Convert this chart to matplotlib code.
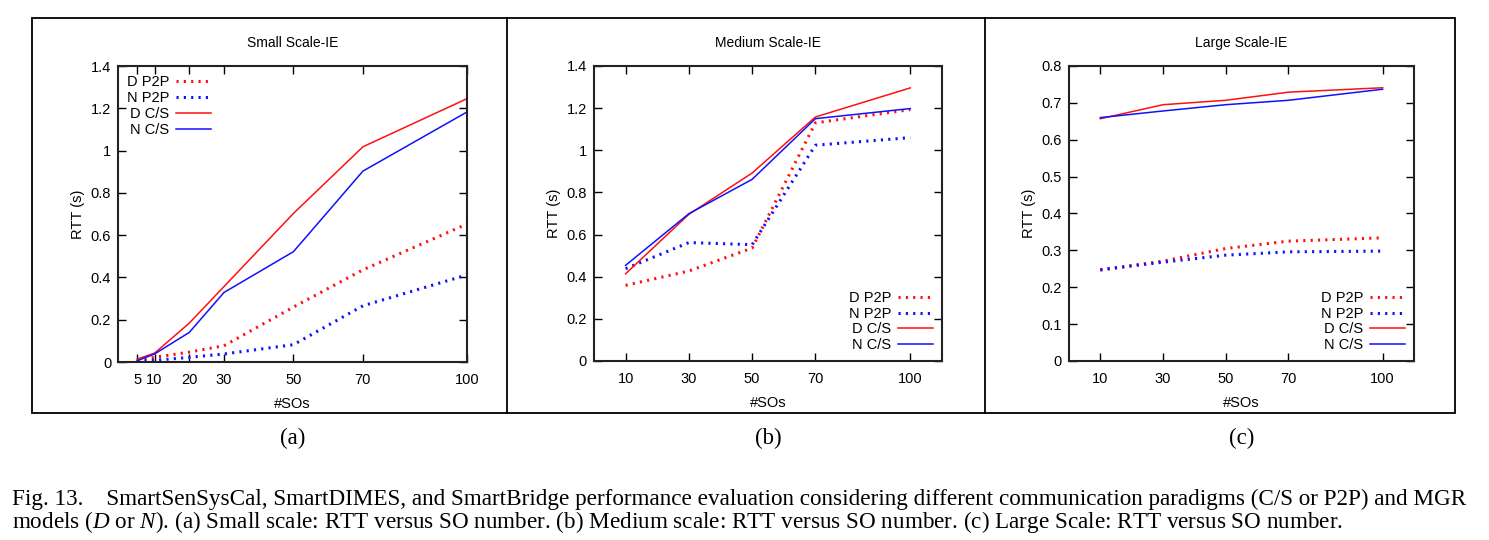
import matplotlib
matplotlib.use('Agg')
import matplotlib.pyplot as plt
from matplotlib.lines import Line2D
from matplotlib.patches import Rectangle

plt.rcParams['font.family'] = 'Liberation Sans'
plt.rcParams['mathtext.fontset'] = 'custom'
plt.rcParams['mathtext.rm'] = 'Liberation Serif'
plt.rcParams['mathtext.it'] = 'Liberation Serif:italic'

# data
x_small = [5, 10, 20, 30, 50, 70, 100]
small_d_p2p = [0.010, 0.022, 0.047, 0.077, 0.260, 0.436, 0.653]
small_n_p2p = [0.003, 0.008, 0.022, 0.038, 0.082, 0.266, 0.412]
small_d_cs = [0.014, 0.042, 0.184, 0.357, 0.703, 1.018, 1.246]
small_n_cs = [0.006, 0.038, 0.140, 0.329, 0.522, 0.903, 1.183]

x_med = [10, 30, 50, 70, 100]
med_d_p2p = [0.359, 0.427, 0.536, 1.130, 1.193]
med_n_p2p = [0.438, 0.562, 0.552, 1.024, 1.060]
med_d_cs = [0.414, 0.696, 0.892, 1.158, 1.296]
med_n_cs = [0.454, 0.699, 0.862, 1.150, 1.198]

x_large = [10, 30, 50, 70, 100]
large_d_p2p = [0.246, 0.271, 0.305, 0.325, 0.334]
large_n_p2p = [0.248, 0.268, 0.287, 0.296, 0.298]
large_d_cs = [0.657, 0.695, 0.707, 0.729, 0.741]
large_n_cs = [0.660, 0.678, 0.695, 0.707, 0.737]

labels = ['D P2P', 'N P2P', 'D C/S', 'N C/S']
titles = ['Small Scale-IE', 'Medium Scale-IE', 'Large Scale-IE']
panel_names = ['(a)', '(b)', '(c)']

fig = plt.figure(figsize=(14.89, 5.40), dpi=100)

# axes boxes in figure fractions
boxes = [[0.0793, 0.3296, 0.2344, 0.5481],
         [0.3989, 0.3315, 0.2337, 0.5463],
         [0.7179, 0.3315, 0.2317, 0.5463]]

panels = [
    (x_small, [small_d_p2p, small_n_p2p, small_d_cs, small_n_cs], (-0.5, 100), (0, 1.4), 0.2, x_small),
    (x_med, [med_d_p2p, med_n_p2p, med_d_cs, med_n_cs], (0, 110), (0, 1.4), 0.2, x_med),
    (x_large, [large_d_p2p, large_n_p2p, large_d_cs, large_n_cs], (0, 110), (0, 0.8), 0.1, x_large),
]

dot = (0, (0.7, 1.7))
for i, (xs, series, xlim, ylim, ystep, xt) in enumerate(panels):
    ax = fig.add_axes(boxes[i])
    ax.plot(xs, series[0], color='#ff1010', lw=2.2, linestyle=dot, dash_capstyle='butt', label=labels[0])
    ax.plot(xs, series[1], color='#1010ff', lw=2.2, linestyle=dot, dash_capstyle='butt', label=labels[1])
    ax.plot(xs, series[2], color='#ff1010', lw=1.1, label=labels[2])
    ax.plot(xs, series[3], color='#1010ff', lw=1.1, label=labels[3])
    ax.set_xlim(xlim)
    ax.set_ylim(ylim)
    ax.set_xticks(xt)
    n = int(round(ylim[1] / ystep))
    yt = [round(k * ystep, 2) for k in range(n + 1)]
    ax.set_yticks(yt)
    ax.set_yticklabels(['0' if v == 0 else ('1' if v == 1 else '%g' % v) for v in yt])
    ax.tick_params(direction='in', top=True, right=True, length=6, width=1,
                   labelsize=10.5, pad=8)
    ax.tick_params(axis='y', pad=5)
    for s in ax.spines.values():
        s.set_linewidth(1.5)
        s.set_color('#222222')
    ax.set_title(titles[i], fontsize=10, pad=14)
    ax.set_xlabel('#SOs', fontsize=10.5, labelpad=7)
    ax.set_ylabel('RTT (s)', fontsize=10.5, labelpad=4)
    if i == 0:
        ax.legend(loc='upper left', bbox_to_anchor=(0.0, 1.0), frameon=False, markerfirst=False,
                  fontsize=10.5, handlelength=2.4, handletextpad=0.5, labelspacing=0.15,
                  borderaxespad=0.2)
    else:
        ax.legend(loc='lower right', bbox_to_anchor=(1.0, 0.0), frameon=False, markerfirst=False,
                  fontsize=10.5, handlelength=2.4, handletextpad=0.5, labelspacing=0.12,
                  borderaxespad=0.2)
    cx = boxes[i][0] + boxes[i][2] / 2
    fig.text(cx, 1 - 438 / 540, panel_names[i], ha='center', va='center',
             fontsize=16.5, family='Liberation Serif')

# outer frame and dividers
fig.add_artist(Rectangle((32 / 1489, 1 - 413 / 540), (1455 - 32) / 1489, (413 - 18) / 540,
                         transform=fig.transFigure, fill=False, lw=1.3, color='black'))
for xd in [507, 985]:
    fig.add_artist(Line2D([xd / 1489, xd / 1489], [1 - 413 / 540, 1 - 18 / 540],
                          transform=fig.transFigure, lw=1.3, color='black'))

cap1 = ('Fig. 13.    SmartSenSysCal, SmartDIMES, and SmartBridge performance evaluation considering '
        'different communication paradigms (C/S or P2P) and MGR')
cap2 = ('models ($D$ or $N$). (a) Small scale: RTT versus SO number. (b) Medium scale: RTT versus SO '
        'number. (c) Large Scale: RTT versus SO number.')
fig.text(12 / 1489, 1 - 505 / 540, cap1, ha='left', va='baseline', fontsize=16.7, family='Liberation Serif')
fig.text(12 / 1489, 1 - 528 / 540, cap2, ha='left', va='baseline', fontsize=16.7, family='Liberation Serif')

fig.savefig('out.png', dpi=100)
